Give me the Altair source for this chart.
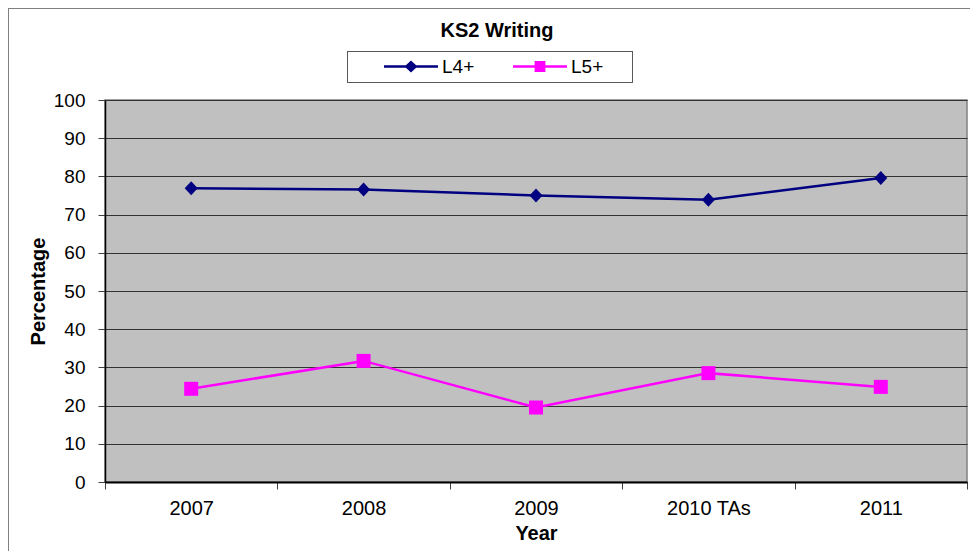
import altair as alt
import pandas as pd

years = ["2007", "2008", "2009", "2010 TAs", "2011"]
l4_values = [76.9, 76.6, 75.0, 73.9, 79.6]
l5_values = [24.4, 31.7, 19.5, 28.5, 24.9]
series_names = ["L4+", "L5+"]
series_colors = ["#000080", "#FF00FF"]
y_ticks = list(range(0, 101, 10))

rows = []
for i, y in enumerate(years):
    rows.append({"Year": y, "Series": "L4+", "Percentage": l4_values[i]})
    rows.append({"Year": y, "Series": "L5+", "Percentage": l5_values[i]})
df = pd.DataFrame(rows)

FONT = "Liberation Sans"

# legend symbols: line + marker (unit coordinates)
legend_shapes = [
    "M-1,-0.046H1V0.046H-1Z M0,-0.22L0.24,0L0,0.22L-0.24,0Z",
    "M-1,-0.046H1V0.046H-1Z M-0.2,-0.2H0.2V0.2H-0.2Z",
]
plot_shapes = ["M0,-1L0.93,0L0,1L-0.93,0Z", "square"]

x_enc = alt.X(
    "Year:N",
    sort=years,
    scale=alt.Scale(paddingInner=0, paddingOuter=0),
    axis=alt.Axis(
        title="Year",
        labelAngle=0,
        grid=False,
        tickBand="extent",
        tickSize=7,
        tickColor="#404040",
        domainColor="#000000",
        domainWidth=2,
        labelFontSize=20,
        labelColor="#000000",
        labelPadding=9,
        titleFontSize=20,
        titleFontWeight="bold",
        titleColor="#000000",
        titlePadding=5,
        labelFont=FONT,
        titleFont=FONT,
    ),
)
y_enc = alt.Y(
    "Percentage:Q",
    scale=alt.Scale(domain=[0, 100], nice=False, zero=True),
    axis=alt.Axis(
        title="Percentage",
        values=y_ticks,
        grid=True,
        gridColor="#333333",
        gridWidth=1,
        tickSize=7,
        tickColor="#404040",
        domainColor="#000000",
        domainWidth=1.5,
        labelFontSize=19,
        labelColor="#000000",
        labelPadding=13,
        titleFontSize=20,
        titleFontWeight="bold",
        titleColor="#000000",
        titlePadding=5,
        labelFont=FONT,
        titleFont=FONT,
    ),
)

series_layers = []
for name, col, shp in zip(series_names, series_colors, plot_shapes):
    base = alt.Chart(df).transform_filter(alt.datum.Series == name)
    series_layers.append(
        base.mark_line(color=col, strokeWidth=2.5).encode(x=x_enc, y=y_enc)
    )
    series_layers.append(
        base.mark_point(
            shape=shp, filled=True, size=196, opacity=1, strokeWidth=0, fill=col
        ).encode(x=x_enc, y=y_enc)
    )

legend_def = alt.Legend(
    title=None,
    orient="none",
    legendX=279,
    legendY=-60.5,
    direction="horizontal",
    symbolSize=2916,
    symbolStrokeWidth=0,
    symbolOpacity=1,
    labelFontSize=19,
    labelFont=FONT,
    labelColor="#000000",
    labelOffset=4,
    columnPadding=38,
    padding=0,
    zindex=5,
)
legend_layer = alt.Chart(df).mark_point(filled=True, opacity=0).encode(
    x=x_enc,
    y=y_enc,
    color=alt.Color(
        "Series:N",
        scale=alt.Scale(domain=series_names, range=series_colors),
        legend=legend_def,
    ),
    shape=alt.Shape(
        "Series:N",
        scale=alt.Scale(domain=series_names, range=legend_shapes),
        legend=legend_def,
    ),
)

# decorative frames: outer chart border and legend box
outer_frame = alt.Chart(df).mark_rect(
    fill="transparent", stroke="#808080", strokeWidth=1
).encode(
    x=alt.value(-96.5), x2=alt.value(900), y=alt.value(-91.5), y2=alt.value(600)
)
legend_box = alt.Chart(df).mark_rect(
    fill="transparent", stroke="#595959", strokeWidth=1
).encode(
    x=alt.value(242.5), x2=alt.value(527.5), y=alt.value(-48.5), y2=alt.value(-17.5)
)

chart = (
    alt.layer(outer_frame, legend_box, *series_layers, legend_layer)
    .properties(
        width=862,
        height=382,
        autosize=alt.AutoSizeParams(type="none"),
        padding={"left": 97, "top": 92, "right": 3, "bottom": 69},
        title=alt.TitleParams(
            "KS2 Writing",
            fontSize=20,
            fontWeight="bold",
            font=FONT,
            color="#000000",
            anchor="middle",
            frame="group",
            baseline="alphabetic",
            dx=-39,
            offset=-49,
        ),
    )
    .configure(background="#FFFFFF", font=FONT)
    .configure_view(fill="#C0C0C0", stroke="#808080", strokeWidth=1.5)
)

chart.save("out.html", embed_options={"renderer": "svg", "actions": False})
